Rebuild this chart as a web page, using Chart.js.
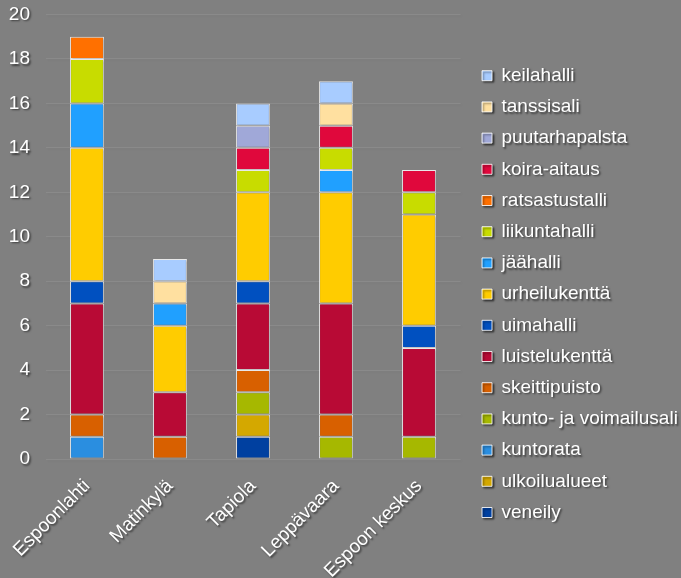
<!DOCTYPE html>
<html><head><meta charset="utf-8">
<script src="https://cdn.jsdelivr.net/npm/chart.js@4/dist/chart.umd.min.js"></script>
<style>html,body{margin:0;padding:0;background:#808080;}#wrap{width:681px;height:578px;}</style>
</head><body><div id="wrap"><canvas id="c" width="681" height="578"></canvas></div>
<script>
const categories = ["Espoonlahti", "Matinkylä", "Tapiola", "Leppävaara", "Espoon keskus"];
const seriesNames = ["veneily","ulkoilualueet","kuntorata","kunto- ja voimailusali","skeittipuisto","luistelukenttä","uimahalli","urheilukenttä","jäähalli","liikuntahalli","ratsastustalli","koira-aitaus","puutarhapalsta","tanssisali","keilahalli"];
const veneily = [null, null, 1, null, null];
const ulkoilualueet = [null, null, 1, null, null];
const kuntorata = [1, null, null, null, null];
const kuntoJaVoimailusali = [null, null, 1, 1, 1];
const skeittipuisto = [1, 1, 1, 1, null];
const luistelukentta = [5, 2, 3, 5, 4];
const uimahalli = [1, null, 1, null, 1];
const urheilukentta = [6, 3, 4, 5, 5];
const jaahalli = [2, 1, null, 1, null];
const liikuntahalli = [2, null, 1, 1, 1];
const ratsastustalli = [1, null, null, null, null];
const koiraAitaus = [null, null, 1, 1, 1];
const puutarhapalsta = [null, null, 1, null, null];
const tanssisali = [null, 1, null, 1, null];
const keilahalli = [null, 1, 1, 1, null];
const seriesValues = [veneily, ulkoilualueet, kuntorata, kuntoJaVoimailusali, skeittipuisto, luistelukentta, uimahalli, urheilukentta, jaahalli, liikuntahalli, ratsastustalli, koiraAitaus, puutarhapalsta, tanssisali, keilahalli];
const seriesColors = ["#0040a0","#d4a800","#2a8ee0","#a6b800","#d86000","#b80a35","#0050c0","#ffcc00","#20a0ff","#c8dc00","#ff7000","#e0083c","#a0a8d8","#ffe0a0","#a8ccff"];
const yTicks = [0,2,4,6,8,10,12,14,16,18,20];

const FONT = "'Liberation Sans', Arial, sans-serif";

const shadowPlugin = {
  id: 'textShadow',
  beforeDraw(chart) {
    const ctx = chart.ctx;
    ctx.save();
    ctx.shadowColor = 'rgba(0,0,0,0.55)';
    ctx.shadowOffsetX = 1.5;
    ctx.shadowOffsetY = 1.5;
    ctx.shadowBlur = 2;
  },
  beforeDatasetsDraw(chart) {
    const ctx = chart.ctx;
    ctx.save();
    ctx.shadowColor = 'rgba(0,0,0,0.25)';
    ctx.shadowOffsetX = 1;
    ctx.shadowOffsetY = 1;
    ctx.shadowBlur = 2;
  },
  afterDatasetsDraw(chart) { chart.ctx.restore(); },
  afterDraw(chart) { chart.ctx.restore(); }
};

// place the legend column next to the plot, as in the reference
const legendPlace = {
  id: 'legendPlace',
  afterLayout(chart) {
    const lg = chart.legend;
    lg.left = 469.8;
    lg.right = 681;
    lg.width = lg.right - lg.left;
    lg.top = 10.2;
    lg.bottom = 578;
    lg.height = lg.bottom - lg.top;
  }
};

new Chart(document.getElementById('c'), {
  type: 'bar',
  data: {
    labels: categories,
    datasets: seriesNames.map((n, i) => ({
      label: n,
      data: seriesValues[i],
      backgroundColor: seriesColors[i],
      borderColor: 'rgba(255,255,255,0.85)',
      borderWidth: 1,
      borderSkipped: false,
      categoryPercentage: 0.8,
      barPercentage: 0.51
    }))
  },
  options: {
    responsive: false,
    animation: false,
    devicePixelRatio: 1,
    layout: { padding: { left: 9, top: 14.5, right: 70, bottom: 0 } },
    plugins: {
      legend: {
        position: 'right',
        reverse: true,
        labels: {
          color: '#ffffff',
          font: { family: FONT, size: 19 },
          boxWidth: 10,
          boxHeight: 10,
          padding: 12.2
        }
      },
      tooltip: { enabled: false }
    },
    scales: {
      x: {
        stacked: true,
        grid: { display: false },
        border: { display: false },
        afterFit(scale) { scale.paddingLeft = 0; scale.paddingRight = 0; scale.height = 119; },
        ticks: {
          color: '#ffffff',
          font: { family: FONT, size: 19 },
          minRotation: 45, maxRotation: 45,
          padding: 8
        }
      },
      y: {
        stacked: true,
        min: 0, max: 20,
        afterBuildTicks(axis) { axis.ticks = yTicks.map(v => ({ value: v })); },
        afterFit(scale) { scale.paddingTop = 0; scale.paddingBottom = 0; scale.width = 36.5; },
        grid: { color: 'rgba(255,255,255,0.08)', drawTicks: false },
        border: { display: false },
        ticks: {
          color: '#ffffff',
          font: { family: FONT, size: 19 },
          padding: 15.5
        }
      }
    }
  },
  plugins: [shadowPlugin, legendPlace]
});
</script></body></html>
